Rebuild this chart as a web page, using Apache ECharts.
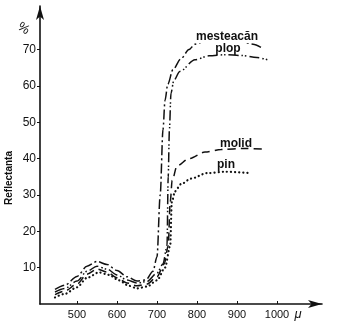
<!DOCTYPE html>
<html><head><meta charset="utf-8">
<script src="https://cdn.jsdelivr.net/npm/echarts@6/dist/echarts.min.js"></script>
<style>html,body{margin:0;padding:0;background:#fff}#c{width:337px;height:328px}</style>
</head><body><div id="c"></div>
<script>
// wavelength (nm) / reflectance (%) pairs
const seriesNames = ['mesteacăn', 'plop', 'molid', 'pin'];
const mesteacan = [[445,4.0],[470,5.2],[500,7.6],[525,10.4],[550,11.7],[575,10.9],[600,9.2],[625,7.5],[650,6.3],[672,6.6],[690,9],[700,13],[708,30],[715,48],[720,56],[727,60.5],[740,64.5],[760,67.5],[780,70],[795,71.5],[830,72.8],[865,73.3],[900,72.8],[940,71.5],[965,70.3]];
const plop = [[445,3.3],[470,4.3],[500,6.3],[525,9.0],[550,10.4],[575,9.6],[600,8.0],[625,6.6],[650,5.8],[675,6.2],[700,8.5],[715,11],[725,16],[728,35],[731,48],[735,58],[742,61.5],[757,64],[795,67.2],[830,68.3],[870,68.6],[910,68.4],[950,67.8],[982,67.0]];
const molid = [[445,2.6],[470,3.6],[500,5.5],[525,8.2],[550,9.6],[575,8.8],[600,7.2],[625,5.8],[650,5.0],[675,5.5],[700,7.5],[718,11],[728,16],[733,28],[738,34],[750,38],[780,40],[820,41.8],[860,42.5],[920,42.8],[970,42.6]];
const pin = [[445,1.8],[470,2.8],[500,4.6],[525,7.2],[555,8.7],[580,8.0],[605,6.5],[630,5.0],[650,4.3],[675,4.8],[700,6.5],[720,10],[733,16],[737,28],[745,31],[760,33],[785,34.5],[825,36],[870,36.4],[935,36]];
const xTicks = [500, 600, 700, 800, 900, 1000];
const yTicks = [10, 20, 30, 40, 50, 60, 70];

const chart = echarts.init(document.getElementById('c'));
const FONT = 'Liberation Sans';
const ink = '#111';
function mkSeries(name, data, dash, width, cap) {
  return {
    name, type: 'line', data, symbol: 'none', smooth: 0.3, smoothMonotone: 'x',
    lineStyle: {color: ink, width: width, type: dash, cap: cap || 'butt'}
  };
}
chart.setOption({
  animation: false,
  backgroundColor: '#fff',
  grid: {left: 40, right: 15, top: 6, bottom: 24},
  xAxis: {
    type: 'value', min: 407.5, max: 1112.5,
    axisLine: {show: true, symbol: ['none', 'arrow'], symbolSize: [6, 14], lineStyle: {color: ink, width: 1.6}},
    axisTick: {show: true, inside: true, length: 3, customValues: xTicks, lineStyle: {color: ink}},
    axisLabel: {customValues: xTicks, formatter: v => String(v), color: ink, fontFamily: FONT, fontSize: 11, margin: 5},
    splitLine: {show: false}
  },
  yAxis: {
    type: 'value', min: 0, max: 82,
    axisLine: {show: true, symbol: ['none', 'arrow'], symbolSize: [6, 14], lineStyle: {color: ink, width: 1.6}},
    axisTick: {show: true, length: 3, customValues: yTicks, lineStyle: {color: ink}},
    axisLabel: {customValues: yTicks, formatter: v => String(v), color: ink, fontFamily: FONT, fontSize: 12, margin: 4},
    splitLine: {show: false}
  },
  series: [
    mkSeries(seriesNames[0], mesteacan, [10, 3, 2, 3], 1.5),
    mkSeries(seriesNames[1], plop, [10, 3, 1.5, 2, 1.5, 3], 1.5),
    mkSeries(seriesNames[2], molid, [8, 5], 1.5),
    mkSeries(seriesNames[3], pin, [0.1, 4], 2.2, 'round')
  ],
  graphic: [
    {type: 'text', left: 15, top: 20, rotation: -0.6, style: {text: '%', font: '13px ' + FONT, fill: ink}},
    {type: 'text', x: 9, y: 178, rotation: Math.PI / 2, style: {text: 'Reflectanta', font: 'bold 10px ' + FONT, fill: ink, align: 'center', verticalAlign: 'middle'}},
    {type: 'text', x: 298, y: 314, style: {text: 'μ', font: 'italic 13px ' + FONT, fill: ink, align: 'center', verticalAlign: 'middle'}},
    {type: 'text', x: 227, y: 37, z: 100, style: {text: seriesNames[0], font: 'bold 12px ' + FONT, fill: ink, align: 'center', verticalAlign: 'middle', backgroundColor: '#fff', padding: [0, 2]}},
    {type: 'text', x: 228, y: 49, z: 100, style: {text: seriesNames[1], font: 'bold 12px ' + FONT, fill: ink, align: 'center', verticalAlign: 'middle'}},
    {type: 'text', x: 236, y: 144, z: 100, style: {text: seriesNames[2], font: 'bold 12px ' + FONT, fill: ink, align: 'center', verticalAlign: 'middle'}},
    {type: 'text', x: 226, y: 165, z: 100, style: {text: seriesNames[3], font: 'bold 12px ' + FONT, fill: ink, align: 'center', verticalAlign: 'middle'}}
  ]
});
</script></body></html>
